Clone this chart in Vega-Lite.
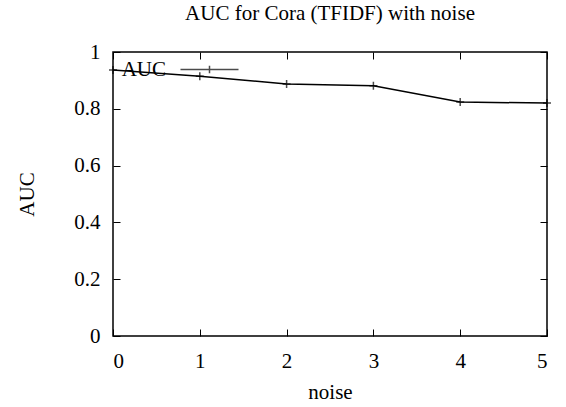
{
  "$schema": "https://vega.github.io/schema/vega-lite/v6.json",
  "width": 434,
  "height": 284,
  "autosize": "none",
  "padding": {"left": 113, "top": 52, "right": 19, "bottom": 71},
  "title": {"text": "AUC for Cora (TFIDF) with noise", "font": "Liberation Serif", "fontSize": 21, "fontWeight": "normal", "color": "black", "anchor": "middle", "baseline": "alphabetic", "offset": 0},
  "config": {
    "view": {"stroke": "black", "strokeWidth": 1.5},
    "font": "Liberation Serif",
    "axis": {"domain": false, "grid": false, "tickColor": "black", "tickWidth": 1, "tickSize": -7, "labelColor": "black", "labelFont": "Liberation Serif", "labelFontSize": 21, "titleFont": "Liberation Serif", "titleFontSize": 21, "titleFontWeight": "normal", "titleColor": "black"}
  },
  "data": {"values": [
    {"noise": 0, "AUC": 0.937, "series": "AUC"},
    {"noise": 1, "AUC": 0.915, "series": "AUC"},
    {"noise": 2, "AUC": 0.887, "series": "AUC"},
    {"noise": 3, "AUC": 0.881, "series": "AUC"},
    {"noise": 4, "AUC": 0.824, "series": "AUC"},
    {"noise": 5, "AUC": 0.820, "series": "AUC"}
  ]},
  "layer": [
    {
      "mark": {"type": "line", "color": "black", "strokeWidth": 1.5},
      "encoding": {
        "x": {"field": "noise", "type": "quantitative", "scale": {"domain": [0, 5], "nice": false}, "axis": {"values": [0, 1, 2, 3, 4, 5], "format": "~g", "labelPadding": 21, "labelFont": "Liberation Serif", "labelFontSize": 21, "title": "noise", "titlePadding": 10, "titleFont": "Liberation Serif"}},
        "y": {"field": "AUC", "type": "quantitative", "scale": {"domain": [0, 1], "nice": false, "zero": false}, "axis": {"values": [0, 0.2, 0.4, 0.6, 0.8, 1], "format": "~g", "labelPadding": 20, "labelFont": "Liberation Serif", "labelFontSize": 21, "title": "AUC", "titlePadding": 36, "titleFont": "Liberation Serif"}}
      }
    },
    {
      "mark": {"type": "point", "shape": "M-1,0H1M0,-1V1", "size": 64, "filled": false, "strokeWidth": 1.5},
      "encoding": {
        "x": {"field": "noise", "type": "quantitative", "scale": {"domain": [0, 5], "nice": false}, "axis": {"orient": "top", "values": [0, 1, 2, 3, 4, 5], "labels": false, "title": null}},
        "y": {"field": "AUC", "type": "quantitative", "scale": {"domain": [0, 1], "nice": false, "zero": false}, "axis": {"orient": "right", "values": [0, 0.2, 0.4, 0.6, 0.8, 1], "labels": false, "title": null}},
        "color": {"field": "series", "type": "nominal", "scale": {"range": ["black"]}, "legend": {"title": null, "orient": "none", "legendX": 86, "legendY": 7, "padding": 0, "symbolType": "M-3,0H3M0,-0.4V0.4", "symbolSize": 374, "symbolStrokeWidth": 1.5, "symbolStrokeColor": "black", "symbolFillColor": "transparent", "labelAlign": "right", "labelOffset": -54, "labelFont": "Liberation Serif", "labelFontSize": 21, "labelColor": "black"}}
      }
    }
  ],
  "resolve": {"axis": {"x": "independent", "y": "independent"}}
}
